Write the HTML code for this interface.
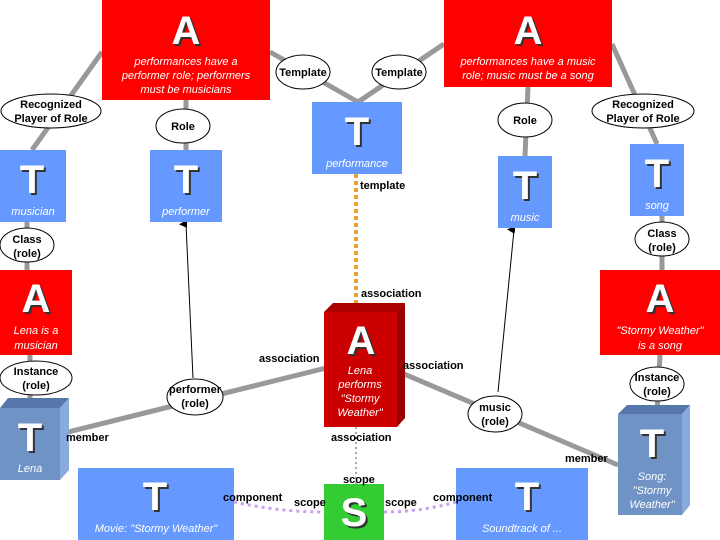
<!DOCTYPE html>
<html><head><meta charset="utf-8"><style>
html,body{margin:0;padding:0;background:#fff;}
svg{display:block;font-family:"Liberation Sans",sans-serif;}
.big{font-size:40px;font-weight:bold;fill:#fff;text-anchor:middle;}
.sh{font-size:40px;font-weight:bold;fill:#333;text-anchor:middle;}
.cap{font-size:11px;font-style:italic;fill:#fff;text-anchor:middle;}
.lb{font-size:11px;font-weight:bold;fill:#000;}
.el{fill:#fff;stroke:#000;stroke-width:1;}
.et{font-size:11px;font-weight:bold;fill:#000;text-anchor:middle;}
.g{stroke:#999;stroke-width:5;fill:none;}
</style></head><body>
<svg width="720" height="540" viewBox="0 0 720 540" xmlns="http://www.w3.org/2000/svg">
<defs><marker id="ar" markerWidth="8" markerHeight="8" refX="4" refY="7" orient="auto-start-reverse" markerUnits="userSpaceOnUse"><path d="M0,8 L4,0 L8,8 z" fill="#000"/></marker></defs>
<!-- gray lines -->
<line class="g" x1="102" y1="52" x2="32" y2="150"/>
<line class="g" x1="186" y1="100" x2="186" y2="150"/>
<line class="g" x1="270" y1="52" x2="358" y2="102"/>
<line class="g" x1="444" y1="44" x2="358" y2="102"/>
<line class="g" x1="528" y1="87" x2="525" y2="156"/>
<line class="g" x1="612" y1="44" x2="657" y2="144"/>
<line class="g" x1="27" y1="222" x2="27" y2="270"/>
<line class="g" x1="662" y1="216" x2="662" y2="270"/>
<line class="g" x1="30" y1="355" x2="30" y2="408"/>
<line class="g" x1="660" y1="355" x2="657" y2="414"/>
<line class="g" x1="60" y1="434" x2="326" y2="368"/>
<line class="g" x1="390" y1="368" x2="618" y2="465"/>
<!-- thin arrows -->
<line x1="193" y1="378" x2="186" y2="224" stroke="#000" stroke-width="1" marker-end="url(#ar)"/>
<line x1="498" y1="392" x2="514" y2="230" stroke="#000" stroke-width="1" marker-end="url(#ar)"/>
<!-- orange dotted -->
<line x1="356" y1="174" x2="356" y2="304" stroke="#f0a030" stroke-width="4" stroke-dasharray="4,3"/>
<line x1="356" y1="427" x2="356" y2="484" stroke="#555" stroke-width="1" stroke-dasharray="2,3"/>
<!-- purple dotted -->
<path d="M234,502 Q280,512 324,512" stroke="#c8a0f0" stroke-width="3" fill="none" stroke-dasharray="3,4"/>
<path d="M384,512 Q420,512 456,502" stroke="#c8a0f0" stroke-width="3" fill="none" stroke-dasharray="3,4"/>

<!-- top A boxes -->
<rect x="102" y="0" width="168" height="100" fill="#ff0000"/>
<text class="sh" x="188" y="46">A</text><text class="big" x="186" y="44">A</text>
<text class="cap" x="186" y="65">performances have a</text>
<text class="cap" x="186" y="79">performer role; performers</text>
<text class="cap" x="186" y="93">must be musicians</text>
<rect x="444" y="0" width="168" height="87" fill="#ff0000"/>
<text class="sh" x="530" y="46">A</text><text class="big" x="528" y="44">A</text>
<text class="cap" x="528" y="65">performances have a music</text>
<text class="cap" x="528" y="79">role; music must be a song</text>

<!-- T boxes -->
<rect x="0" y="150" width="66" height="72" fill="#6699ff"/>
<text class="sh" x="34" y="195">T</text><text class="big" x="32" y="193">T</text>
<text class="cap" x="33" y="215">musician</text>
<rect x="150" y="150" width="72" height="72" fill="#6699ff"/>
<text class="sh" x="188" y="195">T</text><text class="big" x="186" y="193">T</text>
<text class="cap" x="186" y="215">performer</text>
<rect x="312" y="102" width="90" height="72" fill="#6699ff"/>
<text class="sh" x="359" y="147">T</text><text class="big" x="357" y="145">T</text>
<text class="cap" x="357" y="167">performance</text>
<rect x="498" y="156" width="54" height="72" fill="#6699ff"/>
<text class="sh" x="527" y="201">T</text><text class="big" x="525" y="199">T</text>
<text class="cap" x="525" y="221">music</text>
<rect x="630" y="144" width="54" height="72" fill="#6699ff"/>
<text class="sh" x="659" y="189">T</text><text class="big" x="657" y="187">T</text>
<text class="cap" x="657" y="209">song</text>

<!-- middle A boxes -->
<rect x="0" y="270" width="72" height="85" fill="#ff0000"/>
<text class="sh" x="38" y="314">A</text><text class="big" x="36" y="312">A</text>
<text class="cap" x="36" y="334">Lena is a</text>
<text class="cap" x="36" y="349">musician</text>
<rect x="600" y="270" width="120" height="85" fill="#ff0000"/>
<text class="sh" x="662" y="314">A</text><text class="big" x="660" y="312">A</text>
<text class="cap" x="660" y="334">"Stormy Weather"</text>
<text class="cap" x="660" y="349">is a song</text>

<!-- center 3D A -->
<polygon points="324,312 333,303 405,303 397,312" fill="#aa0000"/>
<polygon points="397,312 405,303 405,418 397,427" fill="#990000"/>
<rect x="324" y="312" width="73" height="115" fill="#cc0000"/>
<text class="sh" x="363" y="356">A</text><text class="big" x="361" y="354">A</text>
<text class="cap" x="360" y="374">Lena</text>
<text class="cap" x="360" y="388">performs</text>
<text class="cap" x="360" y="402">"Stormy</text>
<text class="cap" x="360" y="416">Weather"</text>

<!-- Lena 3D T -->
<polygon points="0,408 8,398 69,398 60,408" fill="#5577aa"/>
<polygon points="60,408 69,398 69,470 60,480" fill="#88aadd"/>
<rect x="0" y="408" width="60" height="72" fill="#6f93c4"/>
<text class="sh" x="32" y="453">T</text><text class="big" x="30" y="451">T</text>
<text class="cap" x="30" y="472">Lena</text>

<!-- Song 3D T -->
<polygon points="618,414 627,405 690,405 682,414" fill="#5577aa"/>
<polygon points="682,414 690,405 690,505 682,515" fill="#88aadd"/>
<rect x="618" y="414" width="64" height="101" fill="#6f93c4"/>
<text class="sh" x="654" y="459">T</text><text class="big" x="652" y="457">T</text>
<text class="cap" x="652" y="480">Song:</text>
<text class="cap" x="652" y="494">"Stormy</text>
<text class="cap" x="652" y="508">Weather"</text>

<!-- bottom -->
<rect x="78" y="468" width="156" height="72" fill="#6699ff"/>
<text class="sh" x="157" y="512">T</text><text class="big" x="155" y="510">T</text>
<text class="cap" x="156" y="532">Movie: "Stormy Weather"</text>
<rect x="324" y="484" width="60" height="56" fill="#33cc33"/>
<text class="sh" x="356" y="528">S</text><text class="big" x="354" y="526">S</text>
<rect x="456" y="468" width="132" height="72" fill="#6699ff"/>
<text class="sh" x="529" y="512">T</text><text class="big" x="527" y="510">T</text>
<text class="cap" x="522" y="532">Soundtrack of ...</text>

<!-- ellipses -->
<ellipse class="el" cx="51" cy="111" rx="50" ry="17"/><text class="et" x="51" y="108">Recognized</text><text class="et" x="51" y="122">Player of Role</text>
<ellipse class="el" cx="183" cy="126" rx="27" ry="17"/><text class="et" x="183" y="130">Role</text>
<ellipse class="el" cx="303" cy="72" rx="27" ry="17"/><text class="et" x="303" y="76">Template</text>
<ellipse class="el" cx="399" cy="72" rx="27" ry="17"/><text class="et" x="399" y="76">Template</text>
<ellipse class="el" cx="525" cy="120" rx="27" ry="17"/><text class="et" x="525" y="124">Role</text>
<ellipse class="el" cx="643" cy="111" rx="51" ry="17"/><text class="et" x="643" y="108">Recognized</text><text class="et" x="643" y="122">Player of Role</text>
<ellipse class="el" cx="27" cy="245" rx="27" ry="17"/><text class="et" x="27" y="243">Class</text><text class="et" x="27" y="257">(role)</text>
<ellipse class="el" cx="662" cy="239" rx="27" ry="17"/><text class="et" x="662" y="237">Class</text><text class="et" x="662" y="251">(role)</text>
<ellipse class="el" cx="36" cy="378" rx="36" ry="17"/><text class="et" x="36" y="375">Instance</text><text class="et" x="36" y="389">(role)</text>
<ellipse class="el" cx="657" cy="384" rx="27" ry="17"/><text class="et" x="657" y="381">Instance</text><text class="et" x="657" y="395">(role)</text>
<ellipse class="el" cx="195" cy="397" rx="28" ry="18"/><text class="et" x="195" y="393">performer</text><text class="et" x="195" y="407">(role)</text>
<ellipse class="el" cx="495" cy="414" rx="27" ry="18"/><text class="et" x="495" y="411">music</text><text class="et" x="495" y="425">(role)</text>

<!-- labels -->
<text class="lb" x="360" y="189">template</text>
<text class="lb" x="361" y="297">association</text>
<text class="lb" x="259" y="362">association</text>
<text class="lb" x="403" y="369">association</text>
<text class="lb" x="66" y="441">member</text>
<text class="lb" x="331" y="441">association</text>
<text class="lb" x="343" y="483">scope</text>
<text class="lb" x="223" y="501">component</text>
<text class="lb" x="294" y="506">scope</text>
<text class="lb" x="385" y="506">scope</text>
<text class="lb" x="433" y="501">component</text>
<text class="lb" x="565" y="462">member</text>
</svg>
</body></html>
